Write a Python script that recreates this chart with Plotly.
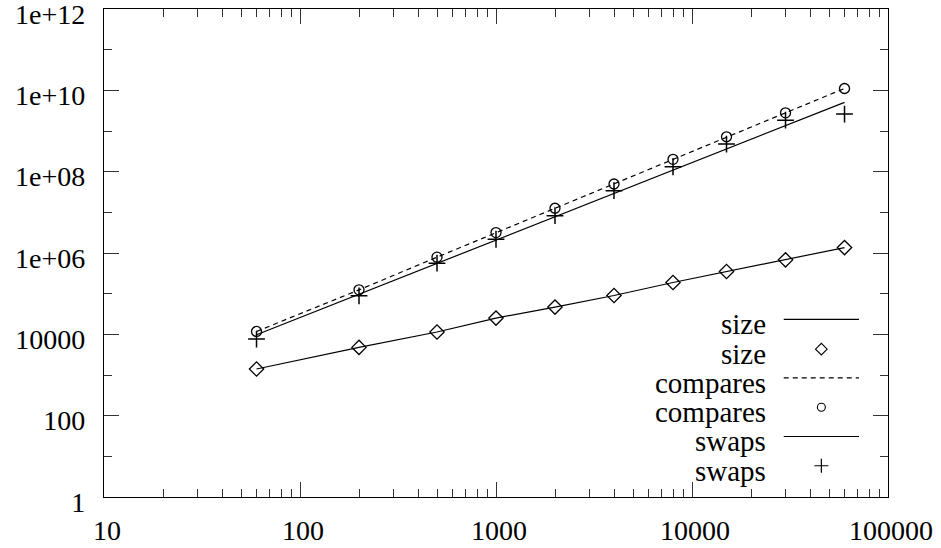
import plotly.graph_objects as go

# ---- data ----
n = [60, 200, 500, 1000, 2000, 4000, 8000, 15000, 30000, 60000]
size = [1406, 4770, 11400, 25100, 46800, 90100, 188000, 350000, 678000, 1.36e6]
compares = [11770, 124000, 789000, 3.17e6, 1.26e7, 4.97e7, 2.01e8, 7.21e8, 2.80e9, 1.11e10]
swaps_line = [9770, 97000, 556000, 2.08e6, 7.80e6, 2.93e7, 1.10e8, 3.66e8, 1.37e9, 5.07e9]
swaps = [7660, 88500, 562000, 2.18e6, 8.29e6, 3.41e7, 1.32e8, 4.78e8, 1.85e9, 2.60e9]

x_ticks = [10, 100, 1000, 10000, 100000]
x_labels = ["10", "100", "1000", "10000", "100000"]
y_ticks = [1, 1e2, 1e4, 1e6, 1e8, 1e10, 1e12]
y_labels = ["1", "100", "10000", "1e+06", "1e+08", "1e+10", "1e+12"]
y_minor = [1e1, 1e3, 1e5, 1e7, 1e9, 1e11]
x_minor = [m * d for d in (10, 100, 1000, 10000) for m in range(2, 10)]

legend_labels = ["size", "size", "compares", "compares", "swaps", "swaps"]

FONT = "Liberation Serif"
BLACK = "#000000"
LW = 1.2

fig = go.Figure()

fig.add_trace(go.Scatter(x=n, y=size, mode="lines", line=dict(color=BLACK, width=LW)))
fig.add_trace(go.Scatter(x=n, y=size, mode="markers",
                         marker=dict(symbol="diamond-open", size=11, color=BLACK, line=dict(width=1.3))))
fig.add_trace(go.Scatter(x=n, y=compares, mode="lines",
                         line=dict(color=BLACK, width=LW, dash="5px,4px")))
fig.add_trace(go.Scatter(x=n, y=compares, mode="markers",
                         marker=dict(symbol="circle-open", size=10, color=BLACK, line=dict(width=1.3))))
fig.add_trace(go.Scatter(x=n, y=swaps_line, mode="lines", line=dict(color=BLACK, width=LW)))
fig.add_trace(go.Scatter(x=n, y=swaps, mode="markers",
                         marker=dict(symbol="cross-thin-open", size=12, color=BLACK, line=dict(width=1.5, color=BLACK))))

# ---- custom legend (text on the left, key on the right) ----
rows_y = [0.364, 0.303, 0.244, 0.184, 0.124, 0.064]
key_x0, key_x1, key_xm = 0.867, 0.963, 0.915
styles = [
    ("line", dict(color=BLACK, width=LW)),
    ("marker", dict(symbol="diamond-open", size=9, color=BLACK, line=dict(width=1.1))),
    ("line", dict(color=BLACK, width=LW, dash="5px,4px")),
    ("marker", dict(symbol="circle-open", size=8, color=BLACK, line=dict(width=1.1))),
    ("line", dict(color=BLACK, width=LW)),
    ("marker", dict(symbol="cross-thin-open", size=10, color=BLACK, line=dict(width=1.2, color=BLACK))),
]
for ry, lab, (kind, st) in zip(rows_y, legend_labels, styles):
    if kind == "line":
        fig.add_trace(go.Scatter(x=[key_x0, key_x1], y=[ry, ry], mode="lines", line=st,
                                 xaxis="x2", yaxis="y2"))
    else:
        fig.add_trace(go.Scatter(x=[key_xm], y=[ry], mode="markers", marker=st,
                                 xaxis="x2", yaxis="y2"))
    fig.add_annotation(x=0.847, y=ry, xref="paper", yref="paper", text=lab, showarrow=False,
                       xanchor="right", yanchor="middle", yshift=-5,
                       font=dict(family=FONT, size=29, color=BLACK))

axis_common = dict(
    type="log", showgrid=False, zeroline=False, showline=True, linecolor=BLACK, linewidth=1.2,
    mirror="allticks", ticks="inside", ticklen=15, tickwidth=1, tickcolor="#333333",
    tickfont=dict(family=FONT, size=28, color=BLACK), ticklabeloverflow="allow",
    automargin=False,
)

fig.update_layout(
    width=941, height=548, autosize=False,
    margin=dict(l=104, r=53, t=9, b=51, pad=0),
    paper_bgcolor="white", plot_bgcolor="white",
    showlegend=False, hovermode=False,
    xaxis=dict(**axis_common, range=[1, 5], tickmode="array", tickvals=x_ticks, ticktext=x_labels,
               ticklabelstandoff=8, ticklabelshift=3,
               minor=dict(tickmode="array", tickvals=x_minor, ticks="inside", ticklen=8,
                          tickcolor="#333333", showgrid=False)),
    yaxis=dict(**axis_common, range=[0, 12], tickmode="array", tickvals=y_ticks, ticktext=y_labels,
               ticklabelstandoff=12, ticklabelshift=5,
               minor=dict(tickmode="array", tickvals=y_minor, ticks="inside", ticklen=8,
                          tickcolor="#333333", showgrid=False)),
    xaxis2=dict(overlaying="x", range=[0, 1], visible=False, fixedrange=True, automargin=False),
    yaxis2=dict(overlaying="y", range=[0, 1], visible=False, fixedrange=True, automargin=False),
)

# remove the browser's default 8px page margin so the figure fills the window exactly
fig.write_html("out.html", config={"displayModeBar": False, "staticPlot": True},
               post_script="document.body.style.margin='0';document.body.style.overflow='hidden';")
